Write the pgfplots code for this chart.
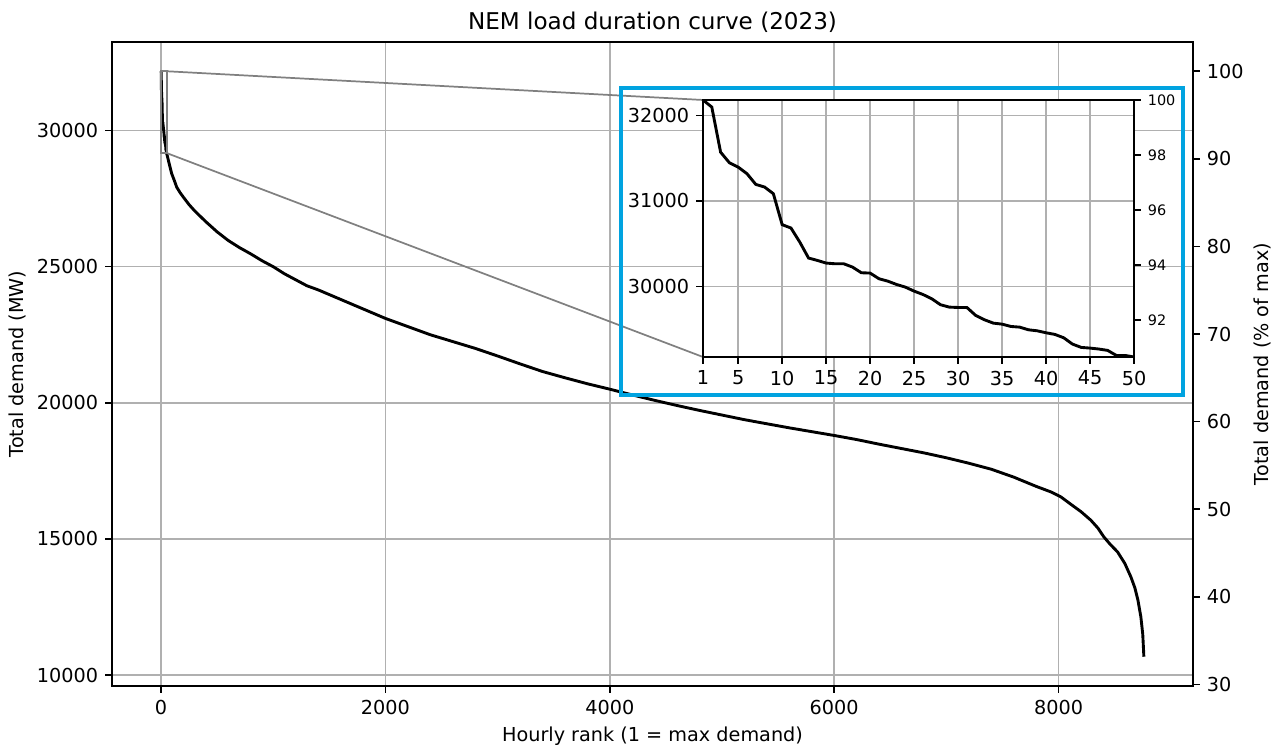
\documentclass[border=0pt]{standalone}
\usepackage{fontspec}
\setmainfont{DejaVu Sans}
\usepackage{pgfplots}
\usepackage{pgfplotstable}
\pgfplotsset{compat=1.18}
\definecolor{gridgray}{HTML}{B0B0B0}
\definecolor{boxblue}{RGB}{0,163,224}

% rank, total demand (MW)
\pgfplotstableread{
rank demand
1 32180
2 32097
3 31570
4 31446
5 31395
6 31318
7 31193
8 31162
9 31084
10 30722
11 30683
12 30519
13 30332
14 30304
15 30273
16 30265
17 30265
18 30226
19 30160
20 30156
21 30090
22 30062
23 30023
24 29992
25 29945
26 29906
27 29856
28 29786
29 29758
30 29754
31 29754
32 29661
33 29610
34 29571
35 29559
36 29532
37 29524
38 29493
39 29481
40 29458
41 29439
42 29400
43 29326
44 29287
45 29279
46 29268
47 29252
48 29193
49 29193
50 29175
60 29000
75 28750
95 28420
120 28150
140 27920
170 27720
200 27550
250 27280
300 27050
400 26650
500 26280
600 25960
700 25700
800 25470
900 25220
1000 25000
1100 24740
1200 24520
1300 24300
1400 24150
1600 23800
1800 23450
2000 23100
2200 22800
2400 22500
2600 22250
2800 22000
3000 21720
3200 21430
3400 21150
3600 20920
3800 20700
4000 20500
4200 20290
4400 20090
4600 19900
4800 19720
5000 19550
5200 19380
5400 19230
5600 19080
5800 18940
6000 18800
6200 18650
6400 18480
6600 18320
6800 18160
7000 17980
7200 17780
7400 17560
7600 17270
7800 16930
7931 16727
8020 16544
8100 16300
8200 16000
8287 15688
8350 15400
8403 15075
8460 14800
8525 14525
8590 14100
8644 13607
8680 13200
8707 12752
8733 12140
8750 11500
8760 10672
}\ldc

\pgfplotsset{
  mpl/.style={
    scale only axis,
    tick align=outside,
    major tick length=3.5pt,
    tick style={black, line width=0.8pt},
    axis line style={line width=0.8pt},
    /pgf/number format/assume math mode=true,
    /pgf/number format/1000 sep={},
    scaled ticks=false,
    grid style={gridgray, line width=0.8pt},
    xticklabel style={anchor=north, inner sep=0pt, yshift=-3.5pt},
    yticklabel style={inner sep=0pt},
  },
}

\begin{document}
\begin{tikzpicture}[font=\fontsize{10}{12}\selectfont]
\path[use as bounding box] (-58.24pt,-32.76pt) rectangle (605.8pt,356.72pt);

\begin{axis}[mpl, name=main,
  width=562.12pt, height=334.88pt,
  xmin=-437, xmax=9198, ymin=9597, ymax=33255,
  xtick={0,2000,4000,6000,8000},
  ytick={10000,15000,20000,25000,30000},
  xtick pos=left, ytick pos=left,
  yticklabel style={anchor=east, xshift=-3.5pt},
  grid=major,
  title={NEM load duration curve (2023)},
  xlabel={Hourly rank (1 = max demand)},
  ylabel={Total demand (MW)},
  every axis title/.style={at={(axis description cs:0.5,1)}, anchor=center, yshift=10.4pt, font=\fontsize{12}{14}\selectfont},
  every axis x label/.style={at={(axis description cs:0.5,0)}, anchor=center, yshift=-26pt},
  every axis y label/.style={at={(axis description cs:0,0.5)}, xshift=-48.9pt, rotate=90, anchor=center},
]
\addplot[black, line width=1.5pt] table[x=rank, y=demand] {\ldc};
\draw[gray, line width=0.9pt] (axis cs:1,29175) rectangle (axis cs:50,32180);
\coordinate (zt) at (axis cs:50,32180);
\coordinate (zb) at (axis cs:50,29175);
\end{axis}

% right axis: share of maximum
\begin{axis}[mpl,
  width=562.12pt, height=334.88pt,
  xmin=-437, xmax=9198, ymin=29.823, ymax=103.34,
  axis y line*=right, axis x line=none,
  ytick={30,40,50,60,70,80,90,100},
  yticklabel style={anchor=west, xshift=3.5pt},
  ylabel={Total demand (\% of max)},
  every axis y label/.style={at={(axis description cs:1,0.5)}, xshift=35.9pt, rotate=90, anchor=center},
]
\addplot[draw=none] coordinates {(0,50)};
\end{axis}

\draw[gray, line width=0.9pt] (zt) -- (307.32pt,304.72pt);
\draw[gray, line width=0.9pt] (zb) -- (307.32pt,171.08pt);

% inset: top 50 hours
\begin{axis}[mpl, name=inset,
  at={(307.32pt,171.08pt)}, anchor=south west,
  width=224.12pt, height=133.64pt,
  xmin=1, xmax=50, ymin=29175, ymax=32180,
  xtick={1,5,10,15,20,25,30,35,40,45,50},
  ytick={30000,31000,32000},
  xtick pos=left, ytick pos=left,
  yticklabel style={anchor=east, xshift=-3.5pt},
  grid=major,
  axis background/.style={fill=white},
]
\addplot[black, line width=1.5pt, restrict x to domain=1:50] table[x=rank, y=demand] {\ldc};
\end{axis}

\begin{axis}[mpl,
  at={(307.32pt,171.08pt)}, anchor=south west,
  width=224.12pt, height=133.64pt,
  xmin=1, xmax=50, ymin=90.66, ymax=100,
  axis y line*=right, axis x line=none,
  ytick={92,94,96,98,100},
  yticklabel style={anchor=west, xshift=3.5pt, font=\fontsize{7.5}{9}\selectfont},
]
\addplot[draw=none] coordinates {(10,95)};
\end{axis}

\draw[boxblue, line width=1.7pt] (264.68pt,151.32pt) rectangle (556.92pt,310.96pt);
\end{tikzpicture}
\end{document}
